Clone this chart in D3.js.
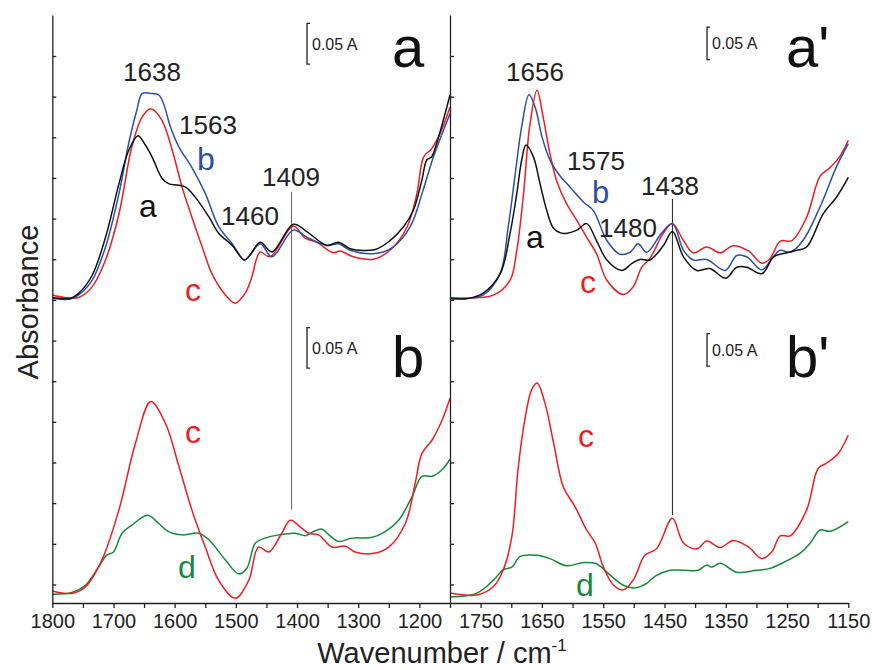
<!DOCTYPE html>
<html>
<head>
<meta charset="utf-8">
<script src="https://cdn.jsdelivr.net/npm/d3@7"></script>
<style>
  html, body { margin: 0; padding: 0; background: #fff; }
  svg { display: block; font-family: "Liberation Sans", Arial, Helvetica, sans-serif; }
</style>
</head>
<body>
<svg id="chart" width="872" height="670"></svg>
<script>
// ---- IR difference spectra: [wavenumber (cm-1), absorbance] ----
// Upper spectra are stacked above the lower ones by an offset per side.
const OFFSET_UPPER_LEFT = 0.365;
const OFFSET_UPPER_RIGHT = 0.456;

// panel a (left, upper)
const spectrumA_a = [[1800,0.001],[1770,0.000],[1757,0.006],[1735,0.028],[1713,0.075],[1691,0.141],[1675,0.182],[1660,0.200],[1650,0.191],[1637,0.174],[1621,0.148],[1610,0.141],[1583,0.137],[1567,0.125],[1544,0.100],[1528,0.080],[1506,0.065],[1486,0.047],[1477,0.053],[1460,0.069],[1441,0.057],[1406,0.091],[1384,0.082],[1351,0.065],[1332,0.069],[1313,0.061],[1272,0.060],[1248,0.071],[1226,0.088],[1210,0.108],[1196,0.145],[1188,0.170],[1180,0.174],[1172,0.190],[1150,0.250]];
const spectrumA_b = [[1800,0.000],[1770,-0.001],[1757,0.004],[1735,0.022],[1713,0.063],[1691,0.129],[1675,0.191],[1662,0.231],[1653,0.252],[1640,0.252],[1626,0.250],[1618,0.239],[1607,0.211],[1593,0.186],[1572,0.161],[1550,0.129],[1528,0.088],[1506,0.067],[1486,0.047],[1477,0.053],[1460,0.067],[1441,0.051],[1406,0.084],[1384,0.075],[1351,0.065],[1332,0.067],[1313,0.059],[1272,0.055],[1243,0.063],[1215,0.088],[1194,0.133],[1177,0.174],[1150,0.227]];
const spectrumA_c = [[1800,0.004],[1780,0.001],[1757,0.001],[1735,0.014],[1713,0.047],[1691,0.104],[1670,0.186],[1653,0.223],[1639,0.233],[1621,0.219],[1604,0.182],[1588,0.137],[1572,0.100],[1555,0.063],[1539,0.030],[1517,0.004],[1501,-0.006],[1485,0.006],[1474,0.026],[1466,0.049],[1460,0.057],[1444,0.051],[1406,0.089],[1387,0.074],[1368,0.069],[1341,0.056],[1330,0.058],[1308,0.051],[1275,0.048],[1248,0.059],[1220,0.088],[1204,0.129],[1193,0.174],[1180,0.184],[1166,0.203],[1150,0.235]];

// panel b (left, lower)
const spectrumB_c = [[1800,0.005],[1768,0.002],[1746,0.010],[1719,0.043],[1691,0.105],[1664,0.187],[1639,0.238],[1615,0.211],[1593,0.158],[1572,0.105],[1550,0.059],[1528,0.018],[1501,-0.004],[1479,0.018],[1463,0.059],[1446,0.053],[1425,0.076],[1411,0.092],[1392,0.082],[1381,0.076],[1365,0.074],[1343,0.059],[1321,0.060],[1305,0.053],[1277,0.051],[1250,0.059],[1223,0.088],[1207,0.137],[1196,0.174],[1179,0.191],[1163,0.215],[1150,0.242]];
const spectrumB_d = [[1800,0.001],[1768,0.003],[1746,0.012],[1724,0.035],[1711,0.049],[1700,0.053],[1686,0.076],[1670,0.086],[1644,0.098],[1626,0.088],[1610,0.078],[1588,0.074],[1561,0.076],[1544,0.068],[1517,0.043],[1495,0.026],[1482,0.033],[1468,0.064],[1452,0.070],[1430,0.074],[1403,0.076],[1386,0.073],[1376,0.077],[1359,0.081],[1348,0.074],[1332,0.066],[1310,0.070],[1277,0.071],[1256,0.078],[1234,0.092],[1212,0.121],[1196,0.146],[1179,0.146],[1163,0.154],[1150,0.167]];

// panel a' (right, upper)
const spectrumA2_a = [[1800,0.000],[1770,0.000],[1746,0.008],[1718,0.038],[1702,0.100],[1691,0.161],[1683,0.213],[1676,0.236],[1664,0.218],[1653,0.176],[1642,0.135],[1631,0.108],[1615,0.100],[1593,0.105],[1577,0.115],[1561,0.089],[1544,0.059],[1520,0.043],[1503,0.054],[1490,0.060],[1474,0.059],[1452,0.081],[1437,0.103],[1419,0.064],[1397,0.043],[1376,0.046],[1350,0.031],[1332,0.048],[1316,0.048],[1291,0.038],[1272,0.064],[1256,0.069],[1234,0.074],[1218,0.079],[1191,0.130],[1169,0.156],[1150,0.186]];
const spectrumA2_b = [[1800,0.000],[1746,0.005],[1718,0.039],[1705,0.110],[1694,0.188],[1683,0.264],[1671,0.313],[1661,0.294],[1650,0.249],[1637,0.213],[1621,0.189],[1604,0.171],[1582,0.148],[1566,0.135],[1544,0.089],[1523,0.068],[1506,0.071],[1493,0.084],[1479,0.071],[1455,0.100],[1437,0.115],[1419,0.074],[1403,0.059],[1381,0.060],[1351,0.043],[1332,0.066],[1316,0.064],[1291,0.044],[1275,0.061],[1261,0.074],[1245,0.071],[1224,0.089],[1196,0.141],[1169,0.203],[1150,0.238]];
const spectrumA2_c = [[1800,0.001],[1729,0.005],[1702,0.028],[1691,0.074],[1680,0.161],[1670,0.264],[1658,0.320],[1648,0.279],[1637,0.223],[1626,0.181],[1610,0.146],[1593,0.120],[1577,0.094],[1561,0.069],[1544,0.028],[1517,0.006],[1501,0.018],[1487,0.048],[1474,0.061],[1452,0.100],[1437,0.115],[1419,0.089],[1403,0.070],[1381,0.079],[1359,0.070],[1338,0.081],[1313,0.073],[1291,0.054],[1278,0.061],[1261,0.088],[1242,0.089],[1218,0.125],[1196,0.188],[1180,0.201],[1164,0.218],[1150,0.243]];

// panel b' (right, lower)
const spectrumB2_c = [[1800,0.003],[1756,0.000],[1729,0.013],[1713,0.039],[1699,0.090],[1689,0.193],[1678,0.269],[1667,0.315],[1658,0.326],[1645,0.295],[1631,0.234],[1615,0.166],[1596,0.136],[1577,0.100],[1563,0.080],[1550,0.044],[1533,0.015],[1517,0.008],[1501,0.023],[1482,0.061],[1463,0.071],[1437,0.118],[1419,0.080],[1397,0.071],[1381,0.083],[1359,0.073],[1338,0.084],[1313,0.074],[1291,0.056],[1275,0.066],[1261,0.091],[1245,0.091],[1218,0.131],[1199,0.195],[1185,0.203],[1166,0.218],[1150,0.246]];
const spectrumB2_d = [[1800,-0.003],[1756,0.003],[1729,0.023],[1713,0.039],[1699,0.043],[1686,0.059],[1659,0.061],[1637,0.056],[1610,0.045],[1582,0.050],[1561,0.048],[1539,0.031],[1517,0.015],[1498,0.011],[1479,0.018],[1465,0.029],[1441,0.038],[1419,0.038],[1395,0.038],[1381,0.046],[1373,0.043],[1359,0.049],[1332,0.035],[1300,0.038],[1278,0.041],[1256,0.050],[1229,0.064],[1212,0.080],[1196,0.100],[1180,0.098],[1150,0.113]];

// axis ticks and labels
const xTicks = d3.range(1800, 1149, -50);
const xLabelsLeft = [1800, 1700, 1600, 1500, 1400, 1300, 1200];
const xLabelsRight = [1750, 1650, 1550, 1450, 1350, 1250, 1150];
const yTicks = d3.range(0.013, 0.70, 0.05);

// band markers [wavenumber, from absorbance, to absorbance]
const markerLeft = [1409, 0.105, 0.496];
const markerRight = [1437, 0.123, 0.609];

// scale bars [base absorbance] and their size
const SCALE_BAR = 0.05;
const scaleBarsLeft = [0.653, 0.279];
const scaleBarsRight = [0.823, 0.352];

const colors = { a: "#111111", b: "#2b50a8", c: "#ee1c24", d: "#138a3a" };

const svg = d3.select("#chart");
const xLeft = d3.scaleLinear().domain([1800, 1150]).range([52.3, 450]);
const xRight = d3.scaleLinear().domain([1800, 1150]).range([450, 848.3]);
const yLeft = d3.scaleLinear().domain([-0.0098, 0.7134]).range([603, 15]);
const yRight = d3.scaleLinear().domain([-0.01225, 0.89175]).range([603, 15]);

function drawSpectrum(x, y, data, color, offset) {
  const line = d3.line()
    .x(d => x(d[0]))
    .y(d => y(d[1] + offset))
    .curve(d3.curveCatmullRom.alpha(0.5));
  svg.append("path")
    .datum(data)
    .attr("d", line)
    .attr("fill", "none")
    .attr("stroke", color)
    .attr("stroke-width", 1.5)
    .attr("stroke-linejoin", "round");
}

// band markers
function drawMarker(x, y, m, color) {
  svg.append("line")
    .attr("x1", x(m[0])).attr("x2", x(m[0]))
    .attr("y1", y(m[1])).attr("y2", y(m[2]))
    .attr("stroke", color).attr("stroke-width", 1);
}
drawMarker(xLeft, yLeft, markerLeft, "#666");
drawMarker(xRight, yRight, markerRight, "#222");

// spectra
drawSpectrum(xLeft, yLeft, spectrumA_c, colors.c, OFFSET_UPPER_LEFT);
drawSpectrum(xLeft, yLeft, spectrumA_b, colors.b, OFFSET_UPPER_LEFT);
drawSpectrum(xLeft, yLeft, spectrumA_a, colors.a, OFFSET_UPPER_LEFT);
drawSpectrum(xLeft, yLeft, spectrumB_d, colors.d, 0);
drawSpectrum(xLeft, yLeft, spectrumB_c, colors.c, 0);

drawSpectrum(xRight, yRight, spectrumA2_c, colors.c, OFFSET_UPPER_RIGHT);
drawSpectrum(xRight, yRight, spectrumA2_b, colors.b, OFFSET_UPPER_RIGHT);
drawSpectrum(xRight, yRight, spectrumA2_a, colors.a, OFFSET_UPPER_RIGHT);
drawSpectrum(xRight, yRight, spectrumB2_d, colors.d, 0);
drawSpectrum(xRight, yRight, spectrumB2_c, colors.c, 0);

// x axes
function styleAxis(g) {
  g.selectAll("path, line").attr("stroke", "#222").attr("stroke-width", 1.3);
  g.selectAll("text").attr("fill", "#222").attr("font-size", 20)
    .attr("font-family", "'Liberation Sans', Arial, sans-serif");
}
svg.append("g")
  .attr("transform", "translate(0,603)")
  .call(d3.axisBottom(xLeft).tickValues(xTicks).tickSize(5).tickSizeOuter(0).tickPadding(6)
    .tickFormat(d => xLabelsLeft.includes(d) ? d : ""))
  .call(styleAxis);
svg.append("g")
  .attr("transform", "translate(0,603)")
  .call(d3.axisBottom(xRight).tickValues(xTicks.filter(d => d < 1800)).tickSize(5).tickSizeOuter(0).tickPadding(6)
    .tickFormat(d => xLabelsRight.includes(d) ? d : ""))
  .call(styleAxis);

// y axes (unlabelled, inward ticks)
[xLeft(1800), xRight(1800)].forEach(px => {
  svg.append("g")
    .attr("transform", `translate(${px},0)`)
    .call(d3.axisRight(yLeft).tickValues(yTicks).tickSize(4).tickSizeOuter(0).tickFormat(""))
    .call(styleAxis);
});

// axis titles
svg.append("text")
  .attr("x", 442).attr("y", 663)
  .attr("text-anchor", "middle").attr("font-size", 29).attr("fill", "#222")
  .text("Wavenumber / cm")
  .append("tspan").attr("dy", -12).attr("font-size", 17).text("-1");
svg.append("text")
  .attr("transform", "translate(38,302) rotate(-90)")
  .attr("text-anchor", "middle").attr("font-size", 29).attr("fill", "#222")
  .text("Absorbance");

// scale bars
function scaleBar(px, y, base, label) {
  const top = y(base + SCALE_BAR), bot = y(base);
  svg.append("path")
    .attr("d", `M${px + 3},${top}H${px}V${bot}H${px + 3}`)
    .attr("fill", "none").attr("stroke", "#222").attr("stroke-width", 1.3);
  svg.append("text")
    .attr("x", px + 5).attr("y", (top + bot) / 2 + 6)
    .attr("font-size", 16).attr("fill", "#222").text(label);
}
scaleBarsLeft.forEach(b => scaleBar(307, yLeft, b, "0.05 A"));
scaleBarsRight.forEach(b => scaleBar(707, yRight, b, "0.05 A"));

// panel letters
function label(px, py, text, size, color) {
  svg.append("text").attr("x", px).attr("y", py)
    .attr("font-size", size).attr("fill", color).text(text);
}
label(392, 67, "a", 58, "#111");
label(392, 377, "b", 58, "#111");
label(786, 67, "a'", 58, "#111");
label(786, 377, "b'", 58, "#111");

// band positions
label(123, 81, "1638", 26, "#222");
label(179, 134, "1563", 26, "#222");
label(221, 225, "1460", 26, "#222");
label(262, 186, "1409", 26, "#222");
label(506, 81, "1656", 26, "#222");
label(567, 170, "1575", 26, "#222");
label(599, 237, "1480", 26, "#222");
label(641, 195, "1438", 26, "#222");

// spectrum tags
label(197, 170, "b", 32, colors.b);
label(139, 217, "a", 32, colors.a);
label(185, 301, "c", 32, colors.c);
label(185, 443, "c", 32, colors.c);
label(178, 578, "d", 32, colors.d);
label(592, 203, "b", 31, colors.b);
label(526, 248, "a", 32, colors.a);
label(580, 293, "c", 32, colors.c);
label(578, 447, "c", 32, colors.c);
label(576, 596, "d", 32, colors.d);
</script>
</body>
</html>
